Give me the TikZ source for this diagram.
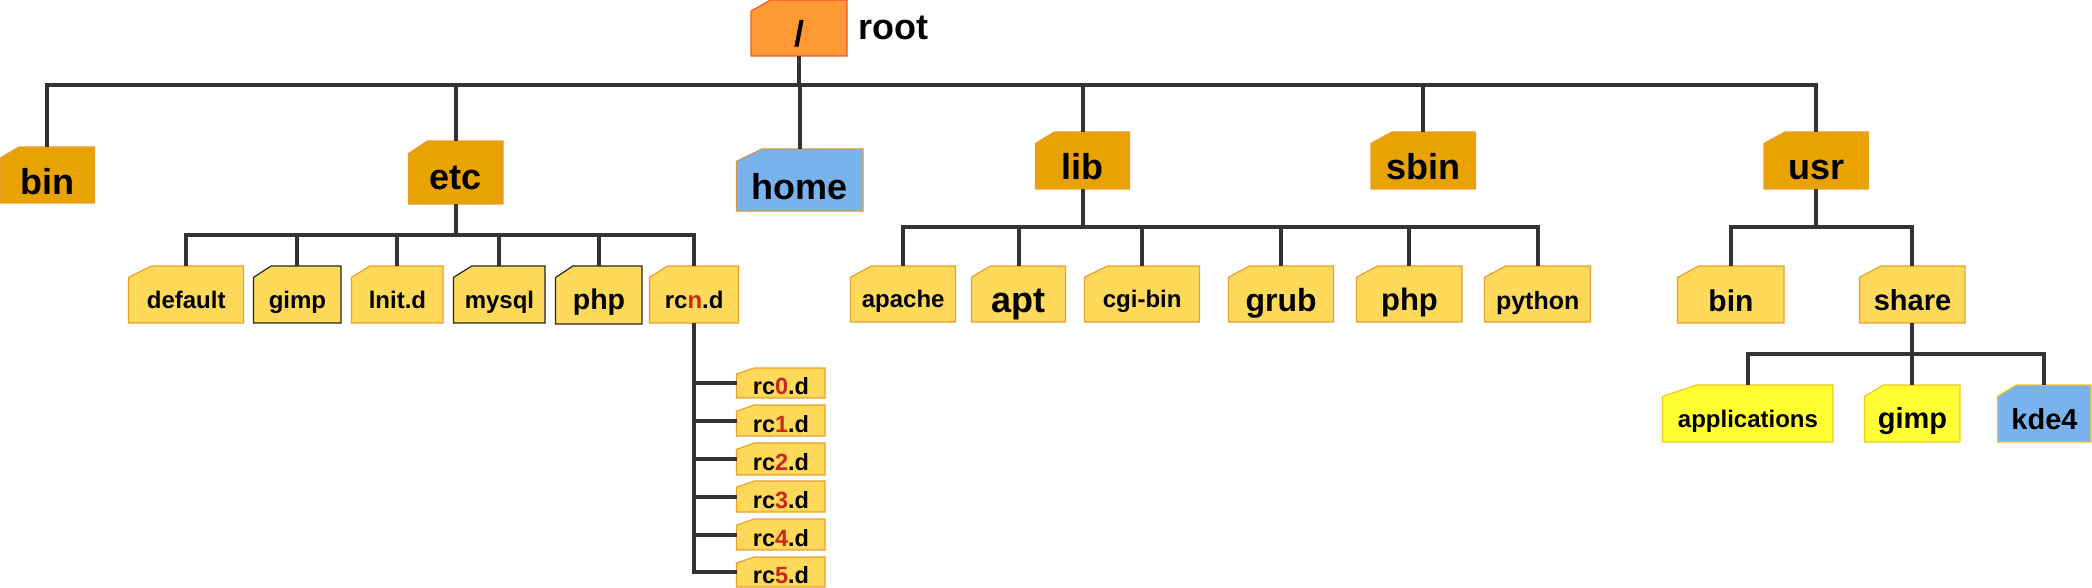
\documentclass[tikz,border=0pt]{standalone}
\usepackage{fontspec}
\setmainfont{Liberation Sans}
\definecolor{topfill}{HTML}{E8A202}
\definecolor{subfill}{HTML}{FFD95A}
\definecolor{rootfill}{HTML}{FF9933}
\definecolor{rootline}{HTML}{F05A28}
\definecolor{bluefill}{HTML}{7AB2EE}
\definecolor{yelfill}{HTML}{FFFF33}
\definecolor{edgeor}{HTML}{E8A030}
\definecolor{rcred}{HTML}{C9281A}
\definecolor{wire}{HTML}{333333}
\tikzset{
  rootcard/.style={fill=rootfill,draw=rootline},
  topcard/.style={fill=topfill,draw=edgeor},
  subcard/.style={fill=subfill,draw=edgeor},
  darkcard/.style={fill=subfill,draw=black!85},
  homecard/.style={fill=bluefill,draw=edgeor!75!gray},
  yelcard/.style={fill=yelfill,draw=edgeor!60!yellow},
  kdecard/.style={fill=bluefill,draw=edgeor!60!yellow},
  wirepath/.style={draw=wire,line width=4pt,line join=miter},
}
% name, x1, y1, x2, y2, depth below baseline, font size, style, text
\newcommand\cardnode[9]{%
  \pgfmathsetmacro\cw{#4-#2}%
  \pgfmathsetmacro\ch{#5-#3}%
  \path[#8,line width=1.2pt,line join=miter]
     (#2+0.2*\cw,#3) -- (#4,#3) -- (#4,#5) -- (#2,#5) -- (#2,#3+0.2*\ch) -- cycle;
  \pgfmathsetmacro\th{\ch-#6}%
  \node[anchor=north west,inner sep=0pt,minimum width=\cw pt,text height=\th pt,text depth=#6pt,
        font={\fontsize{#7}{#7}\selectfont\bfseries},text=black] (#1) at (#2,#3) {#9};%
}
\newcommand\rn[1]{\textcolor{rcred}{#1}}
\begin{document}
\begin{tikzpicture}[x=1pt,y=-1pt]
\useasboundingbox (0,0) rectangle (2092,588);
\coordinate (busroot) at (0,85);
\coordinate (busetc) at (0,235);
\coordinate (buslib) at (0,227);
\coordinate (bususr) at (0,227);
\coordinate (busshare) at (0,354);

\cardnode{root}{751}{0}{847}{56}{10}{36}{rootcard}{/}
\node[anchor=base,inner sep=0pt,font={\fontsize{36}{36}\selectfont\bfseries}] (roottext) at (893.5,40) {root};

\cardnode{bin}{0}{147}{94.5}{203}{9}{36}{topcard}{bin}
\cardnode{etc}{408.5}{141}{503}{204}{15}{36}{topcard}{etc}
\cardnode{home}{736.5}{149}{863}{211}{12}{36}{homecard}{home}
\cardnode{lib}{1035.5}{132}{1129.5}{189}{10}{36}{topcard}{lib}
\cardnode{sbin}{1371}{132}{1475.5}{189}{10}{36}{topcard}{sbin}
\cardnode{usr}{1764}{132}{1868.5}{189}{10}{36}{topcard}{usr}

\cardnode{default}{128.5}{266}{243.5}{323}{15}{24}{subcard}{default}
\cardnode{gimpa}{253.5}{266}{341}{323}{15}{24}{darkcard}{gimp}
\cardnode{init}{351.5}{266}{443}{323}{15}{24}{subcard}{lnit.d}
\cardnode{mysql}{453.5}{266}{545}{323}{15}{24}{darkcard}{mysql}
\cardnode{phpa}{555.5}{266}{642}{324}{15}{28.5}{darkcard}{php}
\cardnode{rcn}{649.5}{266}{738.5}{323}{15}{24}{subcard}{rc\rn{n}.d}

\cardnode{rca}{736.5}{368}{825}{398}{4}{23.5}{subcard}{rc\rn{0}.d}
\cardnode{rcb}{736.5}{405}{825}{436}{4}{23.5}{subcard}{rc\rn{1}.d}
\cardnode{rcc}{736.5}{443}{825}{475}{5}{23.5}{subcard}{rc\rn{2}.d}
\cardnode{rcd}{736.5}{481}{825}{512}{4}{23.5}{subcard}{rc\rn{3}.d}
\cardnode{rce}{736.5}{519}{825}{550}{4}{23.5}{subcard}{rc\rn{4}.d}
\cardnode{rcf}{736.5}{557}{825}{587}{4}{23.5}{subcard}{rc\rn{5}.d}

\cardnode{apache}{850.5}{266}{955.5}{322}{15}{24}{subcard}{apache}
\cardnode{apt}{971.5}{266}{1065.5}{322}{10}{36}{subcard}{apt}
\cardnode{cgi}{1084.5}{266}{1199.5}{322}{15}{24}{subcard}{cgi-bin}
\cardnode{grub}{1228.5}{266}{1333.5}{322}{11}{32}{subcard}{grub}
\cardnode{phpb}{1356.5}{266}{1462}{322}{12}{31}{subcard}{php}
\cardnode{python}{1484.5}{266}{1590.5}{322}{13}{25}{subcard}{python}

\cardnode{binb}{1677.5}{266}{1784}{323}{12}{30}{subcard}{bin}
\cardnode{share}{1859.5}{266}{1965}{323}{13}{29}{subcard}{share}

\cardnode{apps}{1662.5}{385}{1833}{442}{15}{24}{yelcard}{applications}
\cardnode{gimpb}{1864.5}{385}{1960}{442}{14}{29}{yelcard}{gimp}
\cardnode{kde}{1997.5}{385}{2091}{442}{13}{29}{kdecard}{kde4}

% root bus
\foreach \c in {bin,etc,home,lib,sbin,usr}
  \draw[wirepath] (root.south) -- (root.south |- busroot) -| (\c.north);
% etc bus
\foreach \c in {default,gimpa,init,mysql,phpa,rcn}
  \draw[wirepath] (etc.south) -- (etc.south |- busetc) -| (\c.north);
% rcn trunk
\foreach \c in {rca,rcb,rcc,rcd,rce,rcf}
  \draw[wirepath] (rcn.south) |- (\c.west);
% lib bus
\foreach \c in {apache,apt,cgi,grub,phpb,python}
  \draw[wirepath] (lib.south) -- (lib.south |- buslib) -| (\c.north);
% usr bus
\foreach \c in {binb,share}
  \draw[wirepath] (usr.south) -- (usr.south |- bususr) -| (\c.north);
% share bus
\foreach \c in {apps,gimpb,kde}
  \draw[wirepath] (share.south) -- (share.south |- busshare) -| (\c.north);
\end{tikzpicture}
\end{document}
